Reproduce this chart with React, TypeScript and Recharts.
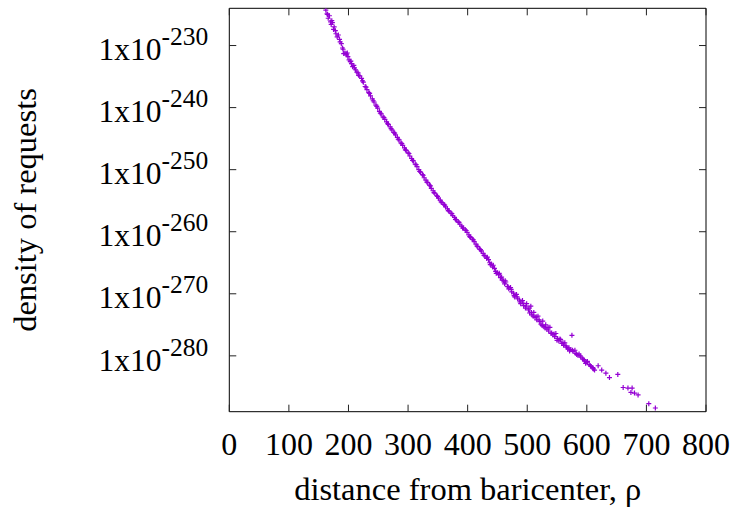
import React from "react";
import {
  ScatterChart,
  Scatter,
  XAxis,
  YAxis,
  ReferenceArea,
  ReferenceLine,
} from "recharts";

// distance from baricenter (rho) and log10 of the density of requests
const rho = [
  162, 164, 165, 166, 168, 170, 171, 172, 173, 175, 176, 178, 179, 181, 183,
  185, 186, 188, 190, 191, 192, 194, 196, 197, 198, 199, 201, 203, 204, 205,
  207, 209, 210, 212, 214, 216, 217, 219, 222, 223.5, 225, 228, 229.5, 231, 234,
  235.5, 237, 240, 241.5, 243, 246, 247.5, 249, 252, 253.5, 255, 258, 259.5, 261,
  264, 265.5, 267, 270, 271.5, 273, 276, 277.5, 279, 282, 283.5, 285, 288, 289.5,
  291, 294, 295.5, 297, 300, 301.5, 303, 306, 307.5, 309, 312, 313.5, 315, 318,
  319.5, 321, 324, 325.5, 327, 330, 331.5, 333, 336, 337.5, 339, 342, 343.5, 345,
  348, 349.5, 351, 354, 355.5, 357, 360, 361.5, 363, 366, 367.5, 369, 372, 373.5,
  375, 378, 379.5, 381, 384, 385.5, 387, 390, 391.5, 393, 396, 397.5, 399, 402,
  403.5, 405, 408, 409.5, 411, 414, 415.5, 417, 420, 421.5, 423, 426, 427.5, 429,
  432, 433, 435, 437, 438, 440, 442, 443, 445, 447, 448, 450, 452, 453, 455,
  457, 458, 460, 462, 463, 464, 467, 468, 469, 472, 473, 474, 477, 478, 479,
  482, 483, 484, 487, 488, 489, 492, 493, 494, 497, 498, 499, 502, 503, 504,
  506, 507, 508, 510, 511, 513, 515, 516, 518, 520, 521, 523, 525, 526, 528,
  530, 531, 533, 535, 536, 538, 540, 541, 543, 545, 546, 548, 550, 551, 553,
  555, 556, 558, 560, 561, 563, 565, 566, 568, 570, 571, 573, 575, 576, 577,
  580, 582, 583, 585, 587, 589, 590, 593, 595, 596, 598, 600, 601, 604, 606,
  607, 610, 611, 613, 619, 625, 632, 638, 652, 661, 669, 674, 676, 680, 686,
  704, 715,
];

const logDensity = [
  -224.3, -224.9, -225.0, -225.6, -225.2, -226.2, -226.6, -226.0, -226.3, -227.4,
  -227.0, -227.6, -228.1, -228.6, -228.3, -229.0, -229.4, -229.7, -230.4, -230.6,
  -231.3, -231.2, -231.3, -231.5, -231.2, -231.8, -232.3, -232.6, -232.5, -232.9,
  -233.4, -233.2, -233.6, -233.9, -234.3, -234.4, -234.8, -234.9, -235.3, -235.7,
  -235.9, -236.6, -236.7, -237.1, -237.6, -237.7, -238.1, -238.6, -238.9, -239.1,
  -239.6, -239.8, -240.1, -240.6, -240.9, -241.0, -241.5, -241.6, -241.9, -242.3,
  -242.6, -242.7, -243.1, -243.4, -243.6, -244.0, -244.1, -244.4, -244.8, -245.1,
  -245.2, -245.7, -245.8, -246.1, -246.5, -246.8, -246.9, -247.3, -247.4, -247.8,
  -248.2, -248.5, -248.6, -249.1, -249.2, -249.5, -250.0, -250.3, -250.4, -250.8,
  -250.9, -251.3, -251.7, -252.0, -252.1, -252.5, -252.6, -253.0, -253.4, -253.7,
  -253.8, -254.2, -254.3, -254.6, -254.9, -255.2, -255.3, -255.6, -255.7, -256.0,
  -256.3, -256.6, -256.7, -257.0, -257.1, -257.4, -257.7, -258.0, -258.1, -258.4,
  -258.5, -258.8, -259.1, -259.4, -259.4, -259.7, -259.8, -260.1, -260.5, -260.8,
  -260.9, -261.2, -261.3, -261.6, -262.0, -262.3, -262.4, -262.8, -262.9, -263.1,
  -263.5, -263.8, -263.9, -264.3, -264.1, -264.5, -265.0, -265.3, -265.2, -265.7,
  -265.4, -265.9, -266.4, -266.7, -266.6, -266.9, -266.7, -267.4, -267.3, -267.8,
  -267.9, -268.4, -267.9, -268.1, -268.8, -268.9, -269.2, -269.0, -269.3, -269.7,
  -269.9, -270.3, -270.5, -270.1, -270.5, -270.8, -271.0, -271.3, -271.6, -271.1,
  -271.5, -271.9, -272.3, -272.0, -271.6, -272.6, -272.3, -273.1, -272.0, -273.0,
  -273.4, -273.6, -273.0, -273.8, -273.7, -274.2, -273.6, -274.2, -274.5, -274.9,
  -275.1, -274.4, -275.3, -275.5, -275.0, -275.7, -275.4, -276.0, -275.4, -276.4,
  -276.3, -276.6, -276.5, -276.9, -276.4, -277.5, -277.2, -277.6, -277.3, -277.4,
  -278.0, -277.9, -278.3, -277.9, -278.4, -278.6, -278.9, -278.7, -279.2, -279.0,
  -276.7, -279.1, -279.3, -279.1, -279.6, -279.8, -279.9, -279.7, -280.0, -280.2,
  -280.5, -280.6, -280.8, -281.2, -281.0, -280.9, -281.4, -281.6, -281.7, -281.9,
  -282.1, -282.3, -281.6, -282.3, -282.8, -283.5, -283.0, -285.1, -285.2, -285.9,
  -285.2, -286.0, -286.3, -287.7, -288.4,
];

const xTicks = [0, 100, 200, 300, 400, 500, 600, 700, 800];
const yTicks = [-230, -240, -250, -260, -270, -280];

const X_MIN = 0;
const X_MAX = 800;
const Y_MIN = -289;
const Y_MAX = -224;
// inner tick length, in data units (about 7px)
const TICK_X = 11.7;
const TICK_Y = 1.13;

const FONT = '"Liberation Serif", "Times New Roman", serif';
const PURPLE = "#9400d3";

const points = rho.map((x, i) => ({ x, y: logDensity[i] }));

const plusMark = (props: any) => {
  const { cx, cy } = props;
  if (cx == null || cy == null) return <g />;
  return (
    <path
      d={`M${cx - 2.5},${cy}h5M${cx},${cy - 2.5}v5`}
      stroke={PURPLE}
      strokeWidth={1.2}
      fill="none"
      style={{ stroke: PURPLE }}
    />
  );
};

const PowerTick = (props: any) => {
  const { x, y, payload } = props;
  return (
    <text
      x={x}
      y={y + 14.7}
      textAnchor="end"
      fill="#000"
      style={{ fontFamily: FONT }}
    >
      <tspan fontSize={31.5}>1x10</tspan>
      <tspan fontSize={25.5} dy={-15}>
        {String(payload.value)}
      </tspan>
    </text>
  );
};

export default function App() {
  return (
    <div style={{ position: "absolute", left: 0, top: 0, background: "#fff" }}>
      <ScatterChart
        width={738}
        height={514}
        margin={{ top: 8.3, right: 32, bottom: 0, left: 0 }}
      >
        <XAxis
          type="number"
          dataKey="x"
          domain={[X_MIN, X_MAX]}
          ticks={xTicks}
          allowDataOverflow
          axisLine={false}
          tickLine={false}
          tickSize={0}
          tickMargin={20.6}
          height={102.3}
          tick={{ fontSize: 32, fill: "#000", fontFamily: FONT }}
          label={{
            content: (p: any) => {
              const vb = p.viewBox;
              return (
                <text
                  x={vb.x + vb.width / 2}
                  y={vb.y + 88}
                  textAnchor="middle"
                  fontSize={32.5}
                  fill="#000"
                  style={{ fontFamily: FONT }}
                >
                  distance from baricenter, ρ
                </text>
              );
            },
          }}
        />
        <YAxis
          type="number"
          dataKey="y"
          domain={[Y_MIN, Y_MAX]}
          ticks={yTicks}
          allowDataOverflow
          axisLine={false}
          tickLine={false}
          tickSize={0}
          tickMargin={21}
          width={229.3}
          tick={<PowerTick />}
          label={{
            content: (p: any) => {
              const vb = p.viewBox;
              const cx = 36;
              const cy = vb.y + vb.height / 2;
              return (
                <text
                  x={cx}
                  y={cy}
                  transform={`rotate(-90, ${cx}, ${cy})`}
                  textAnchor="middle"
                  fontSize={32.5}
                  fill="#000"
                  style={{ fontFamily: FONT }}
                >
                  density of requests
                </text>
              );
            },
          }}
        />
        <Scatter
          data={points}
          shape={plusMark}
          activeShape={plusMark}
          fill={PURPLE}
          stroke={PURPLE}
          isAnimationActive={false}
        />
        {xTicks.map((t) => (
          <ReferenceLine
            key={`xb${t}`}
            segment={[
              { x: t, y: Y_MIN },
              { x: t, y: Y_MIN + TICK_Y },
            ]}
            stroke="#222"
            ifOverflow="visible"
          />
        ))}
        {xTicks.map((t) => (
          <ReferenceLine
            key={`xt${t}`}
            segment={[
              { x: t, y: Y_MAX },
              { x: t, y: Y_MAX - TICK_Y },
            ]}
            stroke="#222"
            ifOverflow="visible"
          />
        ))}
        {yTicks.map((t) => (
          <ReferenceLine
            key={`yl${t}`}
            segment={[
              { x: X_MIN, y: t },
              { x: X_MIN + TICK_X, y: t },
            ]}
            stroke="#222"
            ifOverflow="visible"
          />
        ))}
        {yTicks.map((t) => (
          <ReferenceLine
            key={`yr${t}`}
            segment={[
              { x: X_MAX, y: t },
              { x: X_MAX - TICK_X, y: t },
            ]}
            stroke="#222"
            ifOverflow="visible"
          />
        ))}
        <ReferenceArea
          x1={X_MIN}
          x2={X_MAX}
          y1={Y_MIN}
          y2={Y_MAX}
          fill="none"
          stroke="#000"
          strokeWidth={1}
          ifOverflow="visible"
        />
      </ScatterChart>
    </div>
  );
}
